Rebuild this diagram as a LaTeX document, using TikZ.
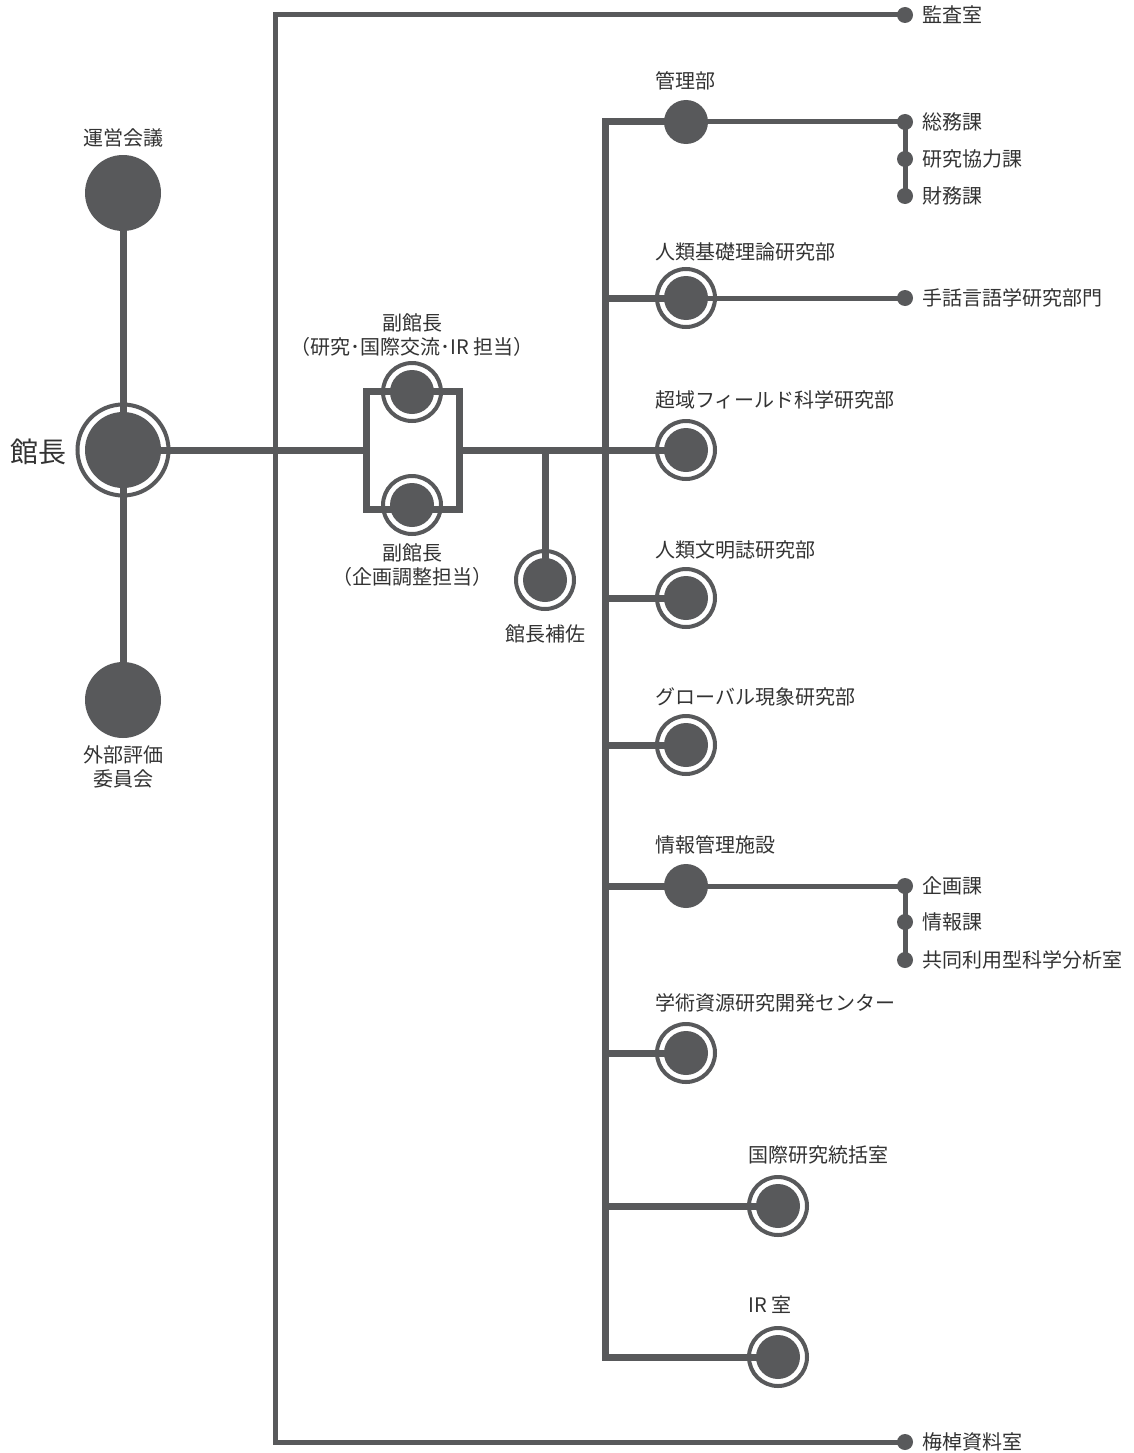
\documentclass[tikz,border=0pt]{standalone}
\usepackage{fontspec}
\setmainfont{Noto Sans CJK JP}
\definecolor{og}{HTML}{58595B}
\definecolor{tx}{HTML}{333333}
\begin{document}
\begin{tikzpicture}[x=1pt,y=-1pt,line join=miter,
  lbl/.style={font=\fontsize{20}{24}\selectfont, text=tx, inner sep=0pt, align=center},
  rlbl/.style={lbl, anchor=west},
  bigdisc/.style={circle, fill=og, minimum size=76pt, inner sep=0pt},
  bigring/.style={circle, draw=og, line width=4pt, fill=white, minimum size=91pt, inner sep=0pt,
     path picture={\fill[og] (path picture bounding box.center) circle[radius=38];}},
  ringnode/.style={circle, draw=og, line width=4pt, fill=white, minimum size=58pt, inner sep=0pt,
     path picture={\fill[og] (path picture bounding box.center) circle[radius=22];}},
  disc/.style={circle, fill=og, minimum size=44pt, inner sep=0pt},
  smalldot/.style={circle, fill=og, minimum size=16pt, inner sep=0pt},
  thickline/.style={draw=og, line width=7pt},
  midline/.style={draw=og, line width=5pt}]
\useasboundingbox (0,0) rectangle (1133,1453);

% ---- left column
\node[bigdisc] (unei) at (123,193) {};
\node[bigring] (kancho) at (123,450) {};
\node[bigdisc] (gaibu) at (123,700) {};
\node[lbl] (unei-l) at (123,138) {運営会議};
\node[lbl, font=\fontsize{28}{32}\selectfont] (kancho-l) at (38,452) {館長};
\node[lbl] (gaibu-l) at (123,767) {外部評価\\委員会};

% ---- vice directors
\node[minimum width=93pt, minimum height=118pt, inner sep=0pt, outer sep=0pt] (box) at (412.5,450) {};
\node[ringnode] (vp1) at (412,392) {};
\node[ringnode] (vp2) at (412,505) {};
\node[ringnode] (hosa) at (545,580) {};
\node[lbl] (vp1-l) at (412,335) {副館長\\（研究･国際交流･IR 担当）};
\node[lbl] (vp2-l) at (412,565) {副館長\\（企画調整担当）};
\node[lbl] (hosa-l) at (545,634) {館長補佐};

% ---- right column
\node[disc] (kanri) at (686,122) {};
\node[ringnode] (kiso) at (686,298) {};
\node[ringnode] (chouiki) at (686,450) {};
\node[ringnode] (bunmei) at (686,598) {};
\node[ringnode] (global) at (686,745) {};
\node[disc] (joho) at (686,886) {};
\node[ringnode] (gakujutsu) at (686,1053) {};
\node[ringnode] (kokusai) at (778,1206) {};
\node[ringnode] (ir) at (778,1357) {};

\node[rlbl] (kanri-l) at (655,81) {管理部};
\node[rlbl] (kiso-l) at (655,252) {人類基礎理論研究部};
\node[rlbl] (chouiki-l) at (655,400) {超域フィールド科学研究部};
\node[rlbl] (bunmei-l) at (655,550) {人類文明誌研究部};
\node[rlbl] (global-l) at (655,697) {グローバル現象研究部};
\node[rlbl] (joho-l) at (655,845) {情報管理施設};
\node[rlbl] (gakujutsu-l) at (655,1003) {学術資源研究開発センター};
\node[rlbl] (kokusai-l) at (748,1155) {国際研究統括室};
\node[rlbl] (ir-l) at (748,1305) {IR 室};

% ---- small dots
\node[smalldot] (kansa) at (905,15) {};
\node[smalldot] (soumu) at (905,122) {};
\node[smalldot] (kyoryoku) at (905,159) {};
\node[smalldot] (zaimu) at (905,196) {};
\node[smalldot] (shuwa) at (905,298) {};
\node[smalldot] (kikaku) at (905,886) {};
\node[smalldot] (johoka) at (905,922) {};
\node[smalldot] (kyodo) at (905,960) {};
\node[smalldot] (umesao) at (905,1442) {};

\node[rlbl] (kansa-l) at (922,15) {監査室};
\node[rlbl] (soumu-l) at (922,122) {総務課};
\node[rlbl] (kyoryoku-l) at (922,159) {研究協力課};
\node[rlbl] (zaimu-l) at (922,196) {財務課};
\node[rlbl] (shuwa-l) at (922,298) {手話言語学研究部門};
\node[rlbl] (kikaku-l) at (922,886) {企画課};
\node[rlbl] (johoka-l) at (922,922) {情報課};
\node[rlbl] (kyodo-l) at (922,960) {共同利用型科学分析室};
\node[rlbl] (umesao-l) at (922,1442) {梅棹資料室};

% ---- connectors
\coordinate (lt) at (275,15);
\coordinate (lb) at (275,1442);
\draw[midline] (kansa.center) -- (lt) -- (lb) -- (umesao.center);

\draw[thickline] (unei.center) -- (gaibu.center);
\draw[thickline] (kancho.center) -- (box.west);
\draw[thickline] (box.north west) rectangle (box.south east);
\draw[thickline] (box.east) -- (chouiki.center);
\coordinate (hj) at (545,450);
\draw[thickline] (hj) -- (hosa.center);

\coordinate (vt) at (605,122);
\coordinate (vb) at (605,1357);
\draw[thickline] (kanri.center) -- (vt) -- (vb) -- (ir.center);
\draw[thickline] (kiso.center -| vt) -- (kiso.center);
\draw[thickline] (bunmei.center -| vt) -- (bunmei.center);
\draw[thickline] (global.center -| vt) -- (global.center);
\draw[thickline] (joho.center -| vt) -- (joho.center);
\draw[thickline] (gakujutsu.center -| vt) -- (gakujutsu.center);
\draw[thickline] (kokusai.center -| vt) -- (kokusai.center);

\draw[midline] (kanri.center) -- (soumu.center) -- (zaimu.center);
\draw[midline] (kiso.center) -- (shuwa.center);
\draw[midline] (joho.center) -- (kikaku.center) -- (kyodo.center);
\end{tikzpicture}
\end{document}
